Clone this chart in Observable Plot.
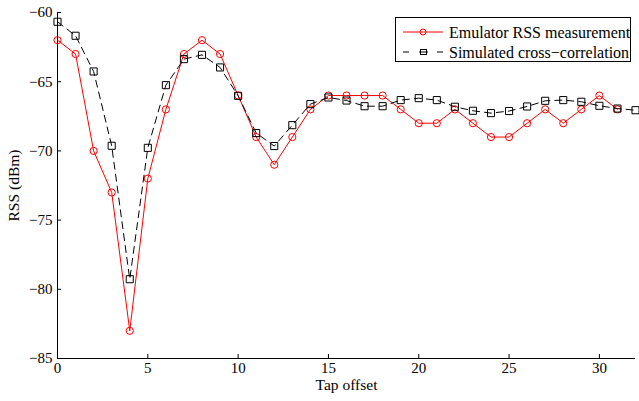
<!DOCTYPE html>
<html><head><meta charset="utf-8">
<script src="https://cdn.jsdelivr.net/npm/d3@7"></script>
<script src="https://cdn.jsdelivr.net/npm/@observablehq/plot@0.6"></script>
<style>
body{margin:0;background:#fff;}
#wrap{position:relative;width:639px;height:401px;font-family:"Liberation Serif","Times New Roman",serif;}
#legend{position:absolute;left:395px;top:17px;width:236px;height:45px;border:1px solid #000;background:#fff;box-sizing:border-box;font-size:16px;}
#legend svg{position:absolute;left:0;top:0;font-family:"Liberation Serif","Times New Roman",serif;}
</style></head><body><div id="wrap"></div>
<script>
const tapsEmu = [0,1,2,3,4,5,6,7,8,9,10,11,12,13,14,15,16,17,18,19,20,21,22,23,24,25,26,27,28,29,30,31];
const rssEmu = [-62,-63,-70,-73,-83,-72,-67,-63,-62,-63,-66,-69,-71,-69,-67,-66,-66,-66,-66,-67,-68,-68,-67,-68,-69,-69,-68,-67,-68,-67,-66,-67];
const tapsSim = [0,1,2,3,4,5,6,7,8,9,10,11,12,13,14,15,16,17,18,19,20,21,22,23,24,25,26,27,28,29,30,31,32];
const rssSim = [-60.67,-61.68,-64.26,-69.63,-79.27,-69.78,-65.25,-63.37,-63.06,-63.97,-66.02,-68.71,-69.65,-68.14,-66.62,-66.14,-66.36,-66.77,-66.77,-66.33,-66.19,-66.33,-66.81,-67.1,-67.27,-67.12,-66.79,-66.38,-66.33,-66.45,-66.74,-66.94,-67.06];
const xTicks = [0,5,10,15,20,25,30];
const yTicks = [-85,-80,-75,-70,-65,-60];
const seriesNames = ["Emulator RSS measurement","Simulated cross\u2212correlation"];
const xLabel = "Tap offset";
const yLabel = "RSS (dBm)";

const emu = tapsEmu.map((t,i)=>({tap:t, rss:rssEmu[i]}));
const sim = tapsSim.map((t,i)=>({tap:t, rss:rssSim[i]}));

const serif = '"Liberation Serif","Times New Roman",serif';
const chart = Plot.plot({
  width: 639, height: 401,
  marginLeft: 57, marginRight: 4, marginTop: 12, marginBottom: 43,
  style: {fontFamily: serif, fontSize: "15px", background: "#fff", color: "#000"},
  x: {domain: [0,32]},
  y: {domain: [-85,-60]},
  marks: [
    Plot.axisX({ticks: xTicks, tickSize: -4, tickPadding: 8, fontSize: 15, label: null}),
    Plot.axisY({ticks: yTicks, tickSize: -4, tickPadding: 9, fontSize: 15, label: null}),
    Plot.axisX({ticks: [], label: xLabel, labelAnchor: "center", labelArrow: "none", labelOffset: 31, fontSize: 15.5, tickSize: 0}),
    Plot.axisY({ticks: [], label: yLabel, labelAnchor: "center", labelArrow: "none", labelOffset: 50, fontSize: 15.5, tickSize: 0}),
    Plot.ruleY([-85], {stroke: "#000", strokeWidth: 1}),
    Plot.ruleX([0], {stroke: "#000", strokeWidth: 1}),
    Plot.line(emu, {x: "tap", y: "rss", stroke: "#ff0000", strokeWidth: 1}),
    Plot.dot(emu, {x: "tap", y: "rss", symbol: "circle", r: 3.6, stroke: "#ff0000", fill: "none", strokeWidth: 1}),
    Plot.line(sim, {x: "tap", y: "rss", stroke: "#000", strokeWidth: 1, strokeDasharray: "7,5"}),
    Plot.dot(sim, {x: "tap", y: "rss", symbol: "square", r: 4, stroke: "#000", fill: "none", strokeWidth: 1})
  ]
});
const wrap = document.getElementById("wrap");
wrap.appendChild(chart);

const leg = document.createElement("div");
leg.id = "legend";
leg.innerHTML = `<svg width="236" height="45">
  <line x1="7" x2="47" y1="14" y2="14" stroke="#ff0000" stroke-width="1"/>
  <circle cx="27" cy="14" r="3" stroke="#ff0000" fill="none"/>
  <text x="53" y="19.5" font-size="16">${seriesNames[0]}</text>
  <line x1="7" x2="13" y1="34" y2="34" stroke="#000" stroke-width="1"/>
  <line x1="23" x2="32" y1="34" y2="34" stroke="#000" stroke-width="1"/>
  <line x1="41" x2="47" y1="34" y2="34" stroke="#000" stroke-width="1"/>
  <rect x="24.5" y="31.5" width="6" height="5" stroke="#000" fill="none"/>
  <text x="53" y="39.5" font-size="16">${seriesNames[1]}</text>
</svg>`;
wrap.appendChild(leg);
</script>
</body></html>
